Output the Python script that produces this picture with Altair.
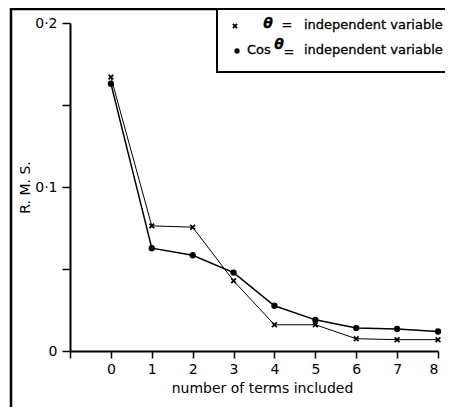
import altair as alt
import pandas as pd

terms = [0, 1, 2, 3, 4, 5, 6, 7, 8]
rms_theta = [0.167, 0.0763, 0.0755, 0.0428, 0.016, 0.016, 0.0075, 0.0069, 0.0069]
rms_cos = [0.163, 0.0627, 0.0584, 0.0478, 0.0276, 0.019, 0.014, 0.0134, 0.0119]
x_ticks = [-1, 0, 1, 2, 3, 4, 5, 6, 7, 8]
y_ticks = [0, 0.05, 0.1, 0.15, 0.2]
legend_text = "independent variable"
x_title = "number of terms included"
y_title = "R. M. S."

FONT = "DejaVu Sans"
W, H = 368, 328

df_t = pd.DataFrame({"n": terms, "rms": rms_theta})
df_c = pd.DataFrame({"n": terms, "rms": rms_cos})
one = pd.DataFrame({"a": [0]})

xs = alt.Scale(domain=[-1, 8], nice=False, zero=False)
ys = alt.Scale(domain=[0, 0.2], nice=False)

xaxis = alt.Axis(
    values=x_ticks, labelExpr="datum.value < 0 ? '' : datum.label",
    title=x_title, grid=False, domainColor="black", domainWidth=2,
    tickColor="black", tickWidth=1.5, tickSize=7, labelFont=FONT,
    labelFontSize=14, labelColor="black", labelPadding=4, titleFont=FONT,
    titleFontSize=14, titleFontWeight="normal", titleColor="black",
    titleX=192, titleY=37, titleBaseline="middle", titleAlign="center",
)
yaxis = alt.Axis(
    values=y_ticks,
    labelExpr="abs(datum.value) < 1e-9 ? '0' : abs(datum.value-0.1) < 1e-9 ? '0·1' : abs(datum.value-0.2) < 1e-9 ? '0·2' : ''",
    title=y_title, grid=False, domainColor="black", domainWidth=2,
    tickColor="black", tickWidth=1.5, tickSize=8, labelFont=FONT,
    labelFontSize=14, labelColor="black", labelPadding=5, titleFont=FONT,
    titleFontSize=14, titleFontWeight="normal", titleColor="black",
    titleX=-45, titleY=164, titleAngle=270, titleAlign="center",
    titleBaseline="middle",
)

xpath = "M-1,-1L1,1M-1,1L1,-1"

line_t = alt.Chart(df_t).mark_line(color="black", strokeWidth=1).encode(
    x=alt.X("n:Q", scale=xs, axis=xaxis),
    y=alt.Y("rms:Q", scale=ys, axis=yaxis),
)
pts_t = alt.Chart(df_t).mark_point(
    shape=xpath, size=22, stroke="black", strokeWidth=1.8, filled=False, opacity=1
).encode(x=alt.X("n:Q", scale=xs), y=alt.Y("rms:Q", scale=ys))
line_c = alt.Chart(df_c).mark_line(color="black", strokeWidth=1.5).encode(
    x=alt.X("n:Q", scale=xs), y=alt.Y("rms:Q", scale=ys)
)
pts_c = alt.Chart(df_c).mark_circle(size=40, color="black", opacity=1).encode(
    x=alt.X("n:Q", scale=xs), y=alt.Y("rms:Q", scale=ys)
)

# outer frame and legend box (decoration)
frame = alt.Chart(one).mark_rect(fill=None, stroke="black", strokeWidth=2.5).encode(
    x=alt.value(-59), x2=alt.value(390), y=alt.value(-14), y2=alt.value(395)
)
lbox = alt.Chart(one).mark_rect(fill="white", stroke="black", strokeWidth=2).encode(
    x=alt.value(147), x2=alt.value(390), y=alt.value(-14), y2=alt.value(49)
)

def txt(s, x, y, size=13, style="normal", weight="normal", align="left"):
    return alt.Chart(one).mark_text(
        text=s, font=FONT, fontSize=size, fontStyle=style, fontWeight=weight,
        align=align, baseline="middle", color="black", stroke="black",
        strokeWidth=0.3
    ).encode(x=alt.value(x), y=alt.value(y))

legend = [
    alt.Chart(one).mark_point(shape=xpath, size=18, stroke="black", strokeWidth=1.8,
                              opacity=1).encode(x=alt.value(165), y=alt.value(3)),
    txt("θ", 198, 1, size=14, style="italic", weight="bold", align="center"),
    txt("=", 217, 2, align="center"),
    txt(legend_text, 234, 2),
    alt.Chart(one).mark_circle(size=28, color="black", opacity=1).encode(
        x=alt.value(167), y=alt.value(28)),
    txt("Cos", 177, 27),
    txt("θ", 209, 22, size=14, style="italic", weight="bold", align="center"),
    txt("=", 219, 29, align="center"),
    txt(legend_text, 234, 27),
]

chart = alt.layer(frame, line_t, line_c, pts_t, pts_c, lbox, *legend).properties(
    width=W, height=H, background="white",
    autosize=alt.AutoSizeParams(type="none"),
    padding={"left": 62, "top": 15, "right": 7, "bottom": 56},
).configure_view(stroke=None)

chart.save("out.html", embed_options={"renderer": "svg", "actions": False})
